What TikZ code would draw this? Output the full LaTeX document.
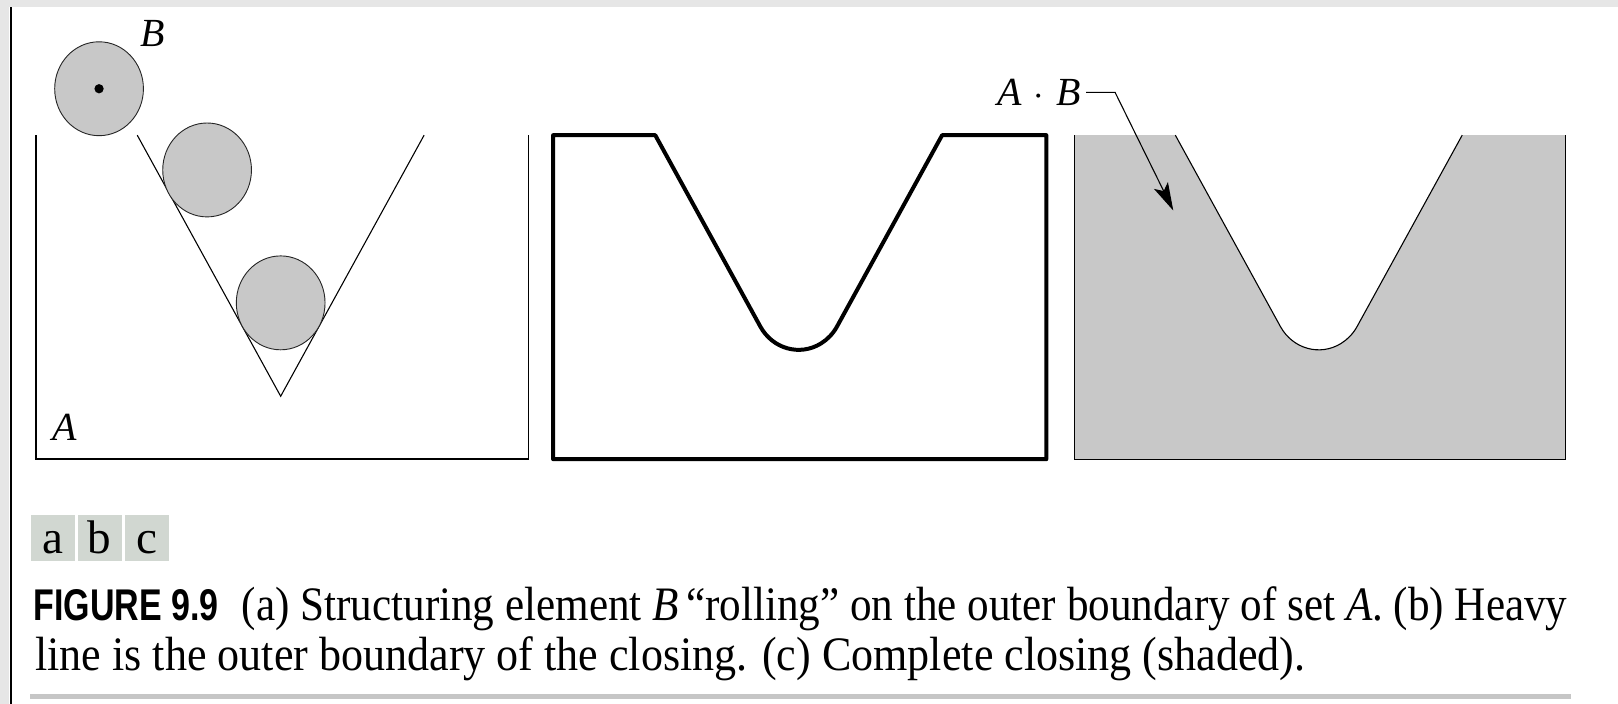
\documentclass[tikz,border=0pt]{standalone}
\usepackage{fontspec}
\setmainfont{Liberation Serif}
\setsansfont{Liberation Sans}
\usepackage{graphicx}
\usetikzlibrary{arrows.meta,positioning}
\definecolor{ballgrey}{HTML}{C8C8C8}
\definecolor{subgrey}{HTML}{D1D7D1}
\definecolor{rulegrey}{HTML}{C6C6C6}
\definecolor{edgegrey}{HTML}{E6E6E6}

\begin{document}
\begin{tikzpicture}[
    x=0.02cm, y=-0.02cm,
    every node/.style={inner sep=0pt},
    thinline/.style={line width=0.6pt},
    boxline/.style={line width=0.8pt},
    heavyline/.style={line width=2.2pt, line join=round},
    ball/.style={draw=black!85, line width=0.5pt, fill=ballgrey},
    setlabel/.style={font=\fontsize{22}{24}\selectfont\itshape, anchor=base},
    subfig/.style={fill=subgrey, minimum width=0.85cm, minimum height=0.888cm,
        text height=0.6cm, text depth=0pt, font=\fontsize{26}{28}\selectfont},
    captext/.style={anchor=base west, font=\fontsize{26.5}{29}\selectfont}
  ]
  \useasboundingbox (0,0) rectangle (1568,682);

  % page edge
  \fill[edgegrey] (0,0) rectangle (1568,7);
  \fill[edgegrey] (0,0) rectangle (9,682);
  \draw[line width=1.3pt] (10.5,7) -- (10.5,682);

  % (a) set A and B rolling
  \draw[boxline] (35,131) -- (35,445) -- (512,445) -- (512,131);
  \draw[thinline] (133,131) -- (272,384) -- (411,131);
  \draw[ball] (96,86) ellipse [x radius=43, y radius=45.5];
  \fill (96,86) circle [radius=4.5];
  \draw[ball] (200.7,164.7) ellipse [x radius=43, y radius=45.5];
  \draw[ball] (272,293.5) ellipse [x radius=43, y radius=45.5];
  \node[setlabel] (labB) at (148.4,45.2) {B};
  \node[setlabel] (labA) at (62.2,426.4) {A};

  % (b) heavy outer boundary
  \draw[heavyline] (536,131) -- (635,131) -- (736.8,316.4)
      arc[start angle=149.83, end angle=30.17, x radius=43, y radius=45.5]
      -- (913,131) -- (1014,131) -- (1014,445) -- (536,445) -- cycle;

  % (c) closing shaded
  \fill[ballgrey] (1041,131) -- (1139,131) -- (1240.8,316.4)
      arc[start angle=149.83, end angle=30.17, x radius=43, y radius=45.5]
      -- (1417,131) -- (1517,131) -- (1517,445) -- (1041,445) -- cycle;
  \draw[thinline] (1041,131) -- (1041,445) -- (1517,445) -- (1517,131);
  \draw[thinline] (1139,131) -- (1240.8,316.4)
      arc[start angle=149.83, end angle=30.17, x radius=43, y radius=45.5]
      -- (1417,131);

  \node[font=\fontsize{22}{24}\selectfont, anchor=east, inner xsep=0.1cm] (closing)
      at (1052.5,89.5) {\textit{A}\hspace{.3em}$\cdot$\hspace{.3em}\textit{B}};
  \coordinate (kink) at (1080.6,89.5);
  \coordinate (tip) at (1137,204);
  \draw[line width=0.6pt, -{Stealth[length=0.54cm, width=0.3cm, inset=0.12cm]}]
      (closing.east) -- (kink) -- (tip);

  % sub-figure tags
  \node[subfig] (taga) at (51,521.2) {a};
  \node[subfig, right=0.048cm of taga] (tagb) {b};
  \node[subfig, right=0.048cm of tagb] (tagc) {c};

  % caption
  \node[anchor=base west, font=\fontsize{24.5}{27}\selectfont\sffamily\bfseries] (fignum)
      at (32.3,601.5) {\resizebox{3.59cm}{\height}{FIGURE 9.9}};
  \node[captext] (capone) at (234,601.5) {\resizebox{25.7cm}{\height}{(a) Structuring
      element \textit{B}\,“rolling” on the outer boundary of set \textit{A}. (b) Heavy}};
  \node[captext] (captwo) at (34,649.5) {\resizebox{24.62cm}{\height}{line is the outer
      boundary of the closing. (c) Complete closing (shaded).}};
  \draw[rulegrey, line width=0.08cm] (29.5,675) -- (1522,675);
\end{tikzpicture}
\end{document}
